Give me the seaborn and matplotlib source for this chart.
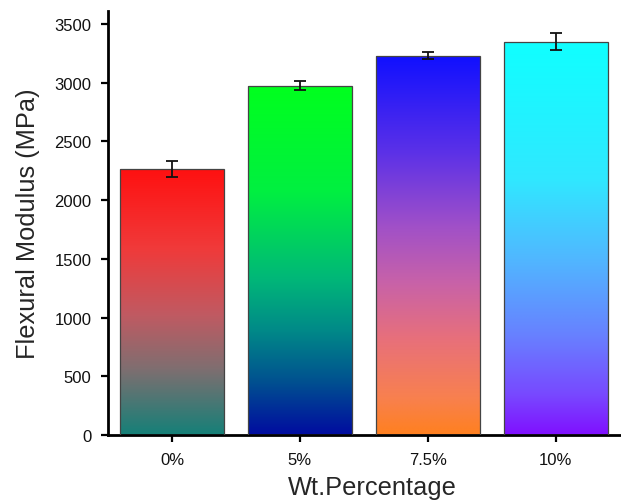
import numpy as np
import pandas as pd
import matplotlib
matplotlib.use("Agg")
import matplotlib.pyplot as plt
from matplotlib.colors import LinearSegmentedColormap
import seaborn as sns

categories = ["0%", "5%", "7.5%", "10%"]
modulus = [2265, 2975, 3230, 3350]
errors = [70, 40, 32, 75]

# gradient stops from top (0) to bottom (1) for each bar
gradients = [
    [(0.0, "#ff1010"), (0.3, "#f03a3a"), (0.55, "#c05a62"), (0.75, "#806e70"), (1.0, "#158078")],
    [(0.0, "#00ff1e"), (0.3, "#00f040"), (0.55, "#00b878"), (0.7, "#008a88"), (0.85, "#005090"), (1.0, "#000ca0")],
    [(0.0, "#1010ff"), (0.25, "#5a30e8"), (0.45, "#a050c8"), (0.6, "#c862a8"), (0.75, "#e8707a"), (0.9, "#f88050"), (1.0, "#ff8020")],
    [(0.0, "#10ffff"), (0.35, "#30e8ff"), (0.55, "#50b8ff"), (0.75, "#6880ff"), (0.9, "#7848ff"), (1.0, "#8010ff")],
]

df = pd.DataFrame({"cat": categories, "val": modulus})

sns.set_theme(style="ticks")
plt.rcParams["font.family"] = ["Liberation Sans", "DejaVu Sans"]

fig = plt.figure(figsize=(6.21, 5.02), dpi=100)
ax = fig.add_axes([0.174, 0.131, 0.826, 0.845])

sns.barplot(data=df, x="cat", y="val", ax=ax, color="white", width=0.81,
            edgecolor="#444444", linewidth=0.9, errorbar=None, zorder=2)

for i, patch in enumerate(ax.patches):
    x0, y0 = patch.get_x(), patch.get_y()
    w, h = patch.get_width(), patch.get_height()
    cmap = LinearSegmentedColormap.from_list(f"g{i}", gradients[i])
    grad = np.linspace(1, 0, 256).reshape(-1, 1)
    im = ax.imshow(grad, cmap=cmap, vmin=0, vmax=1, aspect="auto",
                   extent=(x0, x0 + w, y0, y0 + h),
                   origin="lower", zorder=1.5, interpolation="bilinear")
    im.set_clip_path(patch)
    patch.set_facecolor("none")
    patch.set_zorder(3)

ax.errorbar(np.arange(len(categories)), modulus, yerr=errors, fmt="none",
            ecolor="#111111", elinewidth=1.3, capsize=4, capthick=1.3, zorder=4)

ax.set_xlim(-0.5, 3.51)
ax.set_ylim(0, 3610)
ax.set_yticks(range(0, 3501, 500))
ax.set_xlabel("Wt.Percentage", fontsize=18.3, labelpad=6, x=0.515)
ax.set_ylabel("Flexural Modulus (MPa)", fontsize=18.3, labelpad=10)
ax.tick_params(axis="both", labelsize=12, width=1.6, length=5, direction="out", color="black", labelcolor="#111111")
ax.tick_params(axis="x", pad=7)
ax.tick_params(axis="y", pad=7)
for s in ["top", "right"]:
    ax.spines[s].set_visible(False)
for s in ["left", "bottom"]:
    ax.spines[s].set_linewidth(2)
    ax.spines[s].set_color("black")

fig.savefig("out.png", dpi=100, facecolor="white")
